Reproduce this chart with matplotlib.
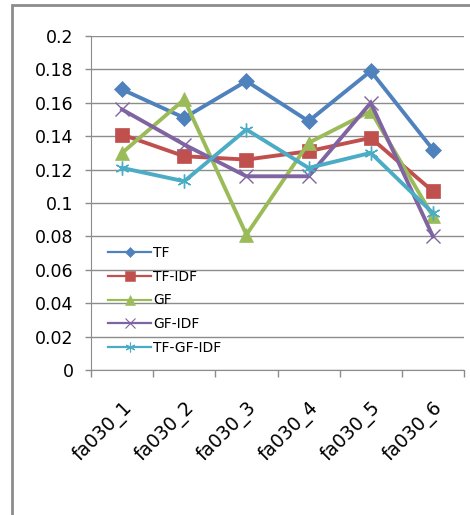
import matplotlib
matplotlib.use("Agg")
from matplotlib import pyplot as plt
from matplotlib.lines import Line2D
from matplotlib.patches import Rectangle

categories = ["fa030_1", "fa030_2", "fa030_3", "fa030_4", "fa030_5", "fa030_6"]
series_names = ["TF", "TF-IDF", "GF", "GF-IDF", "TF-GF-IDF"]
tf = [0.168, 0.151, 0.173, 0.149, 0.179, 0.132]
tf_idf = [0.141, 0.128, 0.126, 0.131, 0.139, 0.107]
gf = [0.130, 0.162, 0.081, 0.136, 0.155, 0.092]
gf_idf = [0.156, 0.135, 0.116, 0.116, 0.160, 0.080]
tf_gf_idf = [0.121, 0.113, 0.144, 0.121, 0.130, 0.094]
y_ticks = [0, 0.02, 0.04, 0.06, 0.08, 0.1, 0.12, 0.14, 0.16, 0.18, 0.2]
y_labels = ["0", "0.02", "0.04", "0.06", "0.08", "0.1", "0.12", "0.14", "0.16", "0.18", "0.2"]

plt.rcParams["font.family"] = ["DejaVu Sans"]

colors = ["#4F81BD", "#C0504D", "#9BBB59", "#8064A2", "#4BACC6"]
markers = ["D", "s", "^", "x", (6, 2, 0)]
msizes = [8, 10, 10, 10, 10]
leg_msizes = [5, 7.5, 7.5, 7, 7]

fig = plt.figure(figsize=(4.7, 5.15), dpi=100)
fig.patches.append(Rectangle((12 / 470, -0.1), 1.2, 1 - 5 / 515 + 0.1,
                             transform=fig.transFigure, fill=False,
                             edgecolor="#8c8c8c", linewidth=2))
ax = fig.add_axes([91 / 470, 1 - 370 / 515, 373 / 470, 334 / 515])

x = range(len(categories))
handles = []
for name, vals, c, m, ms, lms in zip(series_names,
                                     [tf, tf_idf, gf, gf_idf, tf_gf_idf],
                                     colors, markers, msizes, leg_msizes):
    mew = 1.0 if m in ("x", (6, 2, 0)) else 0.5
    ax.plot(x, vals, color=c, lw=2.8, marker=m, markersize=ms,
            markeredgewidth=mew, markeredgecolor=c, solid_joinstyle="miter")
    handles.append(Line2D([], [], color=c, lw=1.6, marker=m, markersize=lms,
                          markeredgewidth=mew * 0.8, markeredgecolor=c))

ax.set_ylim(0, 0.2)
ax.set_xlim(-0.5, 5.5)
ax.set_yticks(y_ticks)
ax.set_yticklabels(y_labels, fontsize=12.5)
ax.yaxis.grid(True, color="#8c8c8c", lw=1)
ax.set_axisbelow(True)
ax.set_xticks(list(x))
ax.set_xticklabels(categories, rotation=45, ha="right", rotation_mode="anchor",
                   fontsize=13.5)
ax.set_xticks([i - 0.5 for i in range(len(categories) + 1)], minor=True)
ax.tick_params(axis="x", which="major", length=0, pad=20)
ax.tick_params(axis="x", which="minor", length=5, color="#8c8c8c", width=1)
ax.tick_params(axis="y", length=4.5, color="#8c8c8c", width=1, pad=8)
for s in ["top", "right"]:
    ax.spines[s].set_visible(False)
ax.spines["left"].set_color("#8c8c8c")
ax.spines["bottom"].set_color("#8c8c8c")

ax.legend(handles, series_names, loc="lower left", bbox_to_anchor=(0.02, 0.016),
          frameon=False, fontsize=10, handlelength=3.1, handletextpad=0.15,
          labelspacing=0.7, borderpad=0.2)

fig.savefig("out.png", dpi=100)
